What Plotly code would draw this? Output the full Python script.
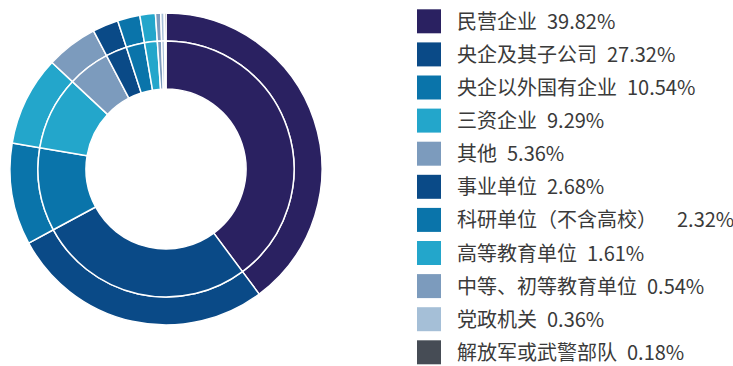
import plotly.graph_objects as go

categories = ["民营企业", "央企及其子公司", "央企以外国有企业", "三资企业", "其他",
              "事业单位", "科研单位（不含高校）\u2002", "高等教育单位", "中等、初等教育单位",
              "党政机关", "解放军或武警部队"]
values = [39.82, 27.32, 10.54, 9.29, 5.36, 2.68, 2.32, 1.61, 0.54, 0.36, 0.18]
colors = ["#2a2161", "#0a4a87", "#0a74aa", "#23a6cb", "#7c9bbd",
          "#0a4a87", "#0a74aa", "#23a6cb", "#7c9bbd", "#a5bfd7", "#464c55"]

W, H = 733, 366
cx, cy = 166, 169
r_out, r_mid, r_in = 156, 128, 80

def dom(r):
    return dict(x=[(cx - r) / W, (cx + r) / W], y=[1 - (cy + r) / H, 1 - (cy - r) / H])

fig = go.Figure()
fig.add_trace(go.Pie(labels=categories, values=values, sort=False, direction="clockwise",
                     rotation=0, hole=r_mid / r_out, domain=dom(r_out),
                     marker=dict(colors=colors, line=dict(color="white", width=1.5)),
                     textinfo="none", hoverinfo="skip", showlegend=False))
fig.add_trace(go.Pie(labels=categories, values=values, sort=False, direction="clockwise",
                     rotation=0, hole=r_in / r_mid, domain=dom(r_mid),
                     marker=dict(colors=colors, line=dict(color="white", width=1.5)),
                     textinfo="none", hoverinfo="skip", showlegend=False))

row0, step, sq = 9.3, 33.1, 24
for i, (c, v, col) in enumerate(zip(categories, values, colors)):
    top = row0 + i * step
    fig.add_shape(type="rect", xref="paper", yref="paper",
                  x0=417 / W, x1=(417 + sq) / W, y0=1 - (top + sq) / H, y1=1 - top / H,
                  fillcolor=col, line=dict(width=0))
    fig.add_annotation(xref="paper", yref="paper", x=455 / W, y=1 - (top + sq / 2 - 1) / H,
                       xanchor="left", yanchor="middle", showarrow=False,
                       text=f"{c}\u2002{v:.2f}%",
                       font=dict(family="Noto Sans CJK SC", size=20, color="#3a3a3a"))

fig.update_layout(width=W, height=H, margin=dict(l=0, r=0, t=0, b=0),
                  paper_bgcolor="white", plot_bgcolor="white")
fig.write_html("out.html", config={"displayModeBar": False},
               post_script="document.body.style.margin='0px';document.body.style.overflow='hidden';")
